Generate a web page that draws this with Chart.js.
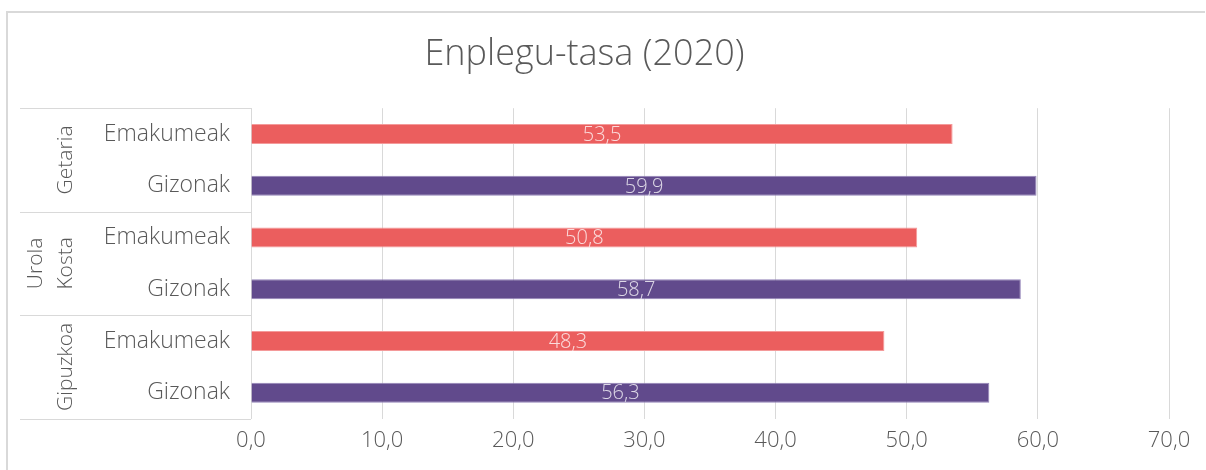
<!DOCTYPE html>
<html>
<head>
<meta charset="utf-8">
<script src="https://cdn.jsdelivr.net/npm/chart.js@4.4.1/dist/chart.umd.min.js"></script>
<style>
  html, body { margin: 0; padding: 0; background: #fff; }
  #wrap { position: relative; width: 1206px; height: 470px; overflow: hidden; }
  #frame { position: absolute; left: 6px; top: 11px; width: 1199px; height: 470px;
           border-left: 2px solid #d9d9d9; border-top: 2px solid #d9d9d9; box-sizing: border-box; }
  canvas { position: absolute; left: 0; top: 0; }
</style>
</head>
<body>
<div id="wrap">
  <div id="frame"></div>
  <canvas id="c" width="1206" height="470"></canvas>
</div>
<script>
const title = "Enplegu-tasa (2020)";
const categories = ["Emakumeak", "Gizonak", "Emakumeak", "Gizonak", "Emakumeak", "Gizonak"];
const values = [53.5, 59.9, 50.8, 58.7, 48.3, 56.3];
const groups = [["Getaria"], ["Urola", "Kosta"], ["Gipuzkoa"]];
const groupSize = 2;
const xMin = 0, xMax = 70, xStep = 10;

const FONT = "'Open Sans', 'Noto Sans', sans-serif";
const GRAY = "#595959";
const LINE = "#d9d9d9";
const colorFor = l => l === "Emakumeak" ? "#EB5E5E" : "#614A8C";
const borderFor = l => l === "Emakumeak" ? "#F49A9A" : "#9484B8";

const fmt = v => v.toFixed(1).replace(".", ",");

const groupPlugin = {
  id: "groupLabels",
  afterDraw(chart) {
    const ctx = chart.ctx;
    const y = chart.scales.y;
    const left = chart.chartArea.left;
    const half = (y.getPixelForValue(1) - y.getPixelForValue(0)) / 2;
    ctx.save();
    ctx.strokeStyle = LINE;
    ctx.lineWidth = 1;
    for (let g = 0; g <= groups.length; g++) {
      const idx = g * groupSize;
      const py = Math.round(y.getPixelForValue(idx) - half) + 0.5;
      ctx.beginPath();
      ctx.moveTo(20, py);
      ctx.lineTo(left, py);
      ctx.stroke();
    }
    ctx.fillStyle = GRAY;
    ctx.font = "300 21px " + FONT;
    ctx.textAlign = "center";
    ctx.textBaseline = "middle";
    groups.forEach((lines, g) => {
      const top = y.getPixelForValue(g * groupSize) - half;
      const bot = y.getPixelForValue(g * groupSize + groupSize - 1) + half;
      const cy = (top + bot) / 2;
      lines.forEach((txt, i) => {
        const cx = 66 - (lines.length - 1 - i) * 30;
        ctx.save();
        ctx.translate(cx, cy);
        ctx.rotate(-Math.PI / 2);
        ctx.fillText(txt, 0, 0);
        ctx.restore();
      });
    });
    ctx.restore();
  }
};

const valuePlugin = {
  id: "valueLabels",
  afterDatasetsDraw(chart) {
    const ctx = chart.ctx;
    const meta = chart.getDatasetMeta(0);
    ctx.save();
    ctx.font = "300 20px " + FONT;
    ctx.fillStyle = "rgba(255,255,255,0.78)";
    ctx.textAlign = "center";
    ctx.textBaseline = "middle";
    meta.data.forEach((bar, i) => {
      const p = bar.getProps(["x", "y", "base"], true);
      ctx.fillText(fmt(values[i]), (p.x + p.base) / 2, p.y + 1);
    });
    ctx.restore();
  }
};

new Chart(document.getElementById("c"), {
  type: "bar",
  data: {
    labels: categories,
    datasets: [{
      data: values,
      backgroundColor: categories.map(colorFor),
      borderColor: categories.map(borderFor),
      borderWidth: 1,
      barPercentage: 0.77,
      categoryPercentage: 0.5
    }]
  },
  options: {
    indexAxis: "y",
    responsive: false,
    animation: false,
    layout: { padding: { left: 0, right: 37, top: 0, bottom: 7 } },
    plugins: {
      legend: { display: false },
      tooltip: { enabled: false },
      title: {
        display: true,
        text: title,
        color: GRAY,
        font: { family: FONT, size: 36, weight: 300 },
        padding: { top: 33, bottom: 32 }
      }
    },
    scales: {
      x: {
        min: xMin, max: xMax,
        ticks: { stepSize: xStep, color: GRAY, font: { family: FONT, size: 22, weight: 300 }, padding: 9,
                 callback: v => fmt(v) },
        grid: { color: LINE, drawTicks: false },
        border: { display: false }
      },
      y: {
        afterFit: s => { s.width = 251; },
        ticks: { color: GRAY, font: { family: FONT, size: 23, weight: 300 }, padding: 21 },
        grid: { display: false, drawTicks: false },
        border: { display: true, color: LINE, width: 1 }
      }
    }
  },
  plugins: [groupPlugin, valuePlugin]
});
</script>
</body>
</html>
